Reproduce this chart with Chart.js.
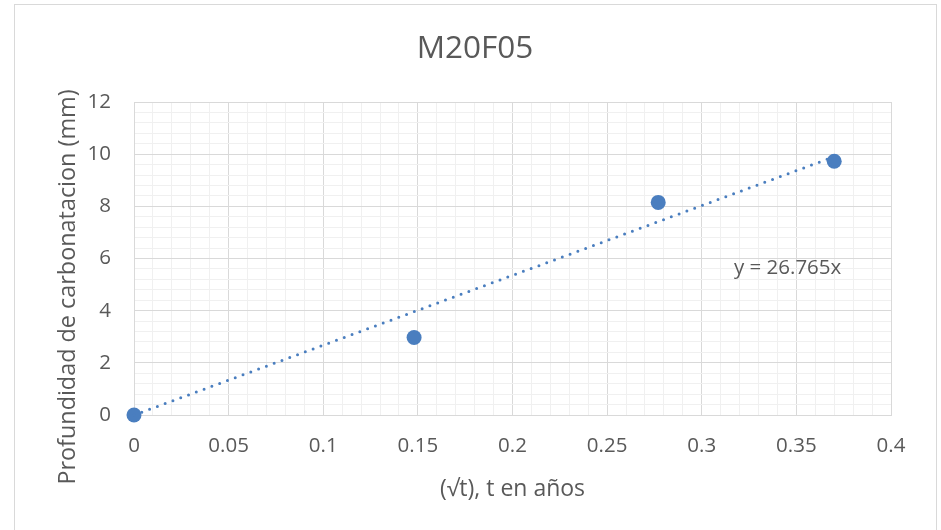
<!DOCTYPE html>
<html>
<head>
<meta charset="utf-8">
<script src="https://cdn.jsdelivr.net/npm/chart.js@4/dist/chart.umd.min.js"></script>
<style>
  html, body { margin: 0; padding: 0; background: #ffffff; }
  canvas { display: block; }
</style>
</head>
<body>
<canvas id="chart" width="941" height="530"></canvas>
<script>
// Measured carbonation depth against square root of exposure time
const sqrtTime = [0, 0.148, 0.277, 0.37];
const depthMm = [0, 2.97, 8.15, 9.73];

// Linear trendline through the origin, y = slope * x
const trendSlope = 26.765;
const trendRange = [0, 0.37];

// Labelled (major) ticks; minor grid lines fall between them
const xMajorTicks = [0, 0.05, 0.1, 0.15, 0.2, 0.25, 0.3, 0.35, 0.4];
const yMajorTicks = [0, 2, 4, 6, 8, 10, 12];

const chartTitle = 'M20F05';
const xTitle = '(\u221At), t en a\u00F1os';
const yTitle = 'Profundidad de carbonatacion (mm)';
const equationText = 'y = 26.765x';
const equationAnchor = { x: 0.317, y: 5.64 };

const TEXT = '#595959';
const MAJOR_GRID = '#d9d9d9';
const MINOR_GRID = '#f0f0f0';
const BLUE = '#4A7EBF';
const FONT = "'Open Sans', sans-serif";

const isMajor = (v, list) => list.some(m => Math.abs(m - v) < 1e-9);
const fmt = v => String(+v.toFixed(2));

const trendPoints = trendRange.map(x => ({ x: x, y: trendSlope * x }));
const dataPoints = sqrtTime.map((x, i) => ({ x: x, y: depthMm[i] }));

// Frame around the whole chart
const framePlugin = {
  id: 'frame',
  beforeDraw(chart) {
    const ctx = chart.ctx;
    ctx.save();
    ctx.fillStyle = '#ffffff';
    ctx.fillRect(0, 0, chart.width, chart.height);
    ctx.strokeStyle = '#d9d9d9';
    ctx.lineWidth = 1;
    ctx.strokeRect(14.5, 4.5, 922, 540);
    ctx.restore();
  }
};

// Vertical axis title (centred on the whole plot block, a little below the grid centre)
const yTitlePlugin = {
  id: 'yTitle',
  afterDraw(chart) {
    const { ctx, chartArea } = chart;
    ctx.save();
    ctx.translate(68, chartArea.bottom - 128);
    ctx.rotate(-Math.PI / 2);
    ctx.font = '23.4px ' + FONT;
    ctx.fillStyle = TEXT;
    ctx.textAlign = 'center';
    ctx.textBaseline = 'middle';
    ctx.fillText(yTitle, 0, 0);
    ctx.restore();
  }
};

// Trendline equation text
const equationPlugin = {
  id: 'equation',
  afterDatasetsDraw(chart) {
    const { ctx, scales } = chart;
    ctx.save();
    ctx.font = '20.5px ' + FONT;
    ctx.fillStyle = TEXT;
    ctx.textAlign = 'left';
    ctx.textBaseline = 'middle';
    ctx.fillText(equationText, scales.x.getPixelForValue(equationAnchor.x), scales.y.getPixelForValue(equationAnchor.y));
    ctx.restore();
  }
};

new Chart(document.getElementById('chart'), {
  type: 'scatter',
  data: {
    datasets: [
      {
        label: 'Profundidad',
        data: dataPoints,
        backgroundColor: BLUE,
        borderColor: BLUE,
        pointRadius: 7.5,
        pointHoverRadius: 7.5,
        borderWidth: 0,
        clip: false,
        order: 2
      },
      {
        label: 'Lineal',
        type: 'line',
        data: trendPoints,
        borderColor: BLUE,
        borderWidth: 3,
        borderDash: [0, 8.3],
        borderCapStyle: 'round',
        pointRadius: 0,
        fill: false,
        clip: false,
        order: 1
      }
    ]
  },
  options: {
    responsive: false,
    animation: false,
    events: [],
    layout: { padding: { left: 9, right: 0, top: 0, bottom: 0 } },
    plugins: {
      legend: { display: false },
      tooltip: { enabled: false },
      title: {
        display: true,
        text: chartTitle,
        color: TEXT,
        font: { family: FONT, size: 31.5, weight: 'normal' },
        padding: { top: 30.1, bottom: 34.1 }
      }
    },
    scales: {
      x: {
        type: 'linear',
        min: 0,
        max: 0.4,
        ticks: {
          stepSize: 0.01,
          autoSkip: false,
          maxRotation: 0,
          padding: 19,
          color: TEXT,
          font: { family: FONT, size: 20.5 },
          callback: v => isMajor(v, xMajorTicks) ? fmt(v) : ''
        },
        grid: {
          drawTicks: false,
          color: ctx => isMajor(ctx.tick.value, xMajorTicks) ? MAJOR_GRID : MINOR_GRID
        },
        border: { color: MAJOR_GRID },
        title: {
          display: true,
          text: xTitle,
          color: TEXT,
          font: { family: FONT, size: 23 },
          padding: { top: 0, bottom: 27 }
        },
        afterFit: s => { s.height = 115; }
      },
      y: {
        type: 'linear',
        min: 0,
        max: 12,
        ticks: {
          stepSize: 0.4,
          autoSkip: false,
          padding: 23,
          color: TEXT,
          font: { family: FONT, size: 20.5 },
          callback: v => isMajor(v, yMajorTicks) ? fmt(v) : ''
        },
        grid: {
          drawTicks: false,
          color: ctx => isMajor(ctx.tick.value, yMajorTicks) ? MAJOR_GRID : MINOR_GRID
        },
        border: { color: MAJOR_GRID },
        title: { display: false },
        afterFit: s => { s.width = 125; }
      },
      yRight: {
        type: 'linear',
        position: 'right',
        min: 0,
        max: 12,
        ticks: { display: false },
        grid: { display: false, drawTicks: false },
        border: { display: false },
        afterFit: s => { s.width = 50; }
      }
    }
  },
  plugins: [framePlugin, yTitlePlugin, equationPlugin]
});
</script>
</body>
</html>
